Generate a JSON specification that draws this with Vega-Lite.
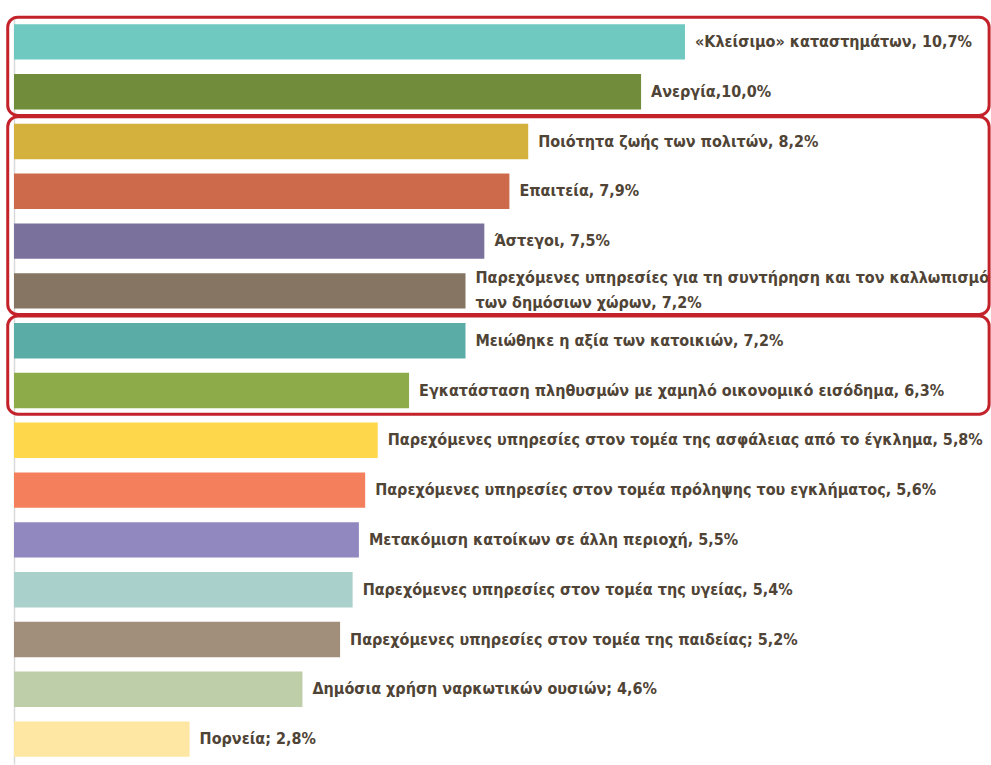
{
  "$schema": "https://vega.github.io/schema/vega-lite/v6.json",
  "autosize": "none",
  "width": 977,
  "height": 747,
  "padding": {"left": 14, "top": 17, "right": 0, "bottom": 1},
  "background": "white",
  "config": {"view": {"stroke": null}},
  "datasets": {
    "bars": [
      {"rank": 1, "value": 10.7, "label": "«Κλείσιμο» καταστημάτων, 10,7%", "color": "#6fc9c1"},
      {"rank": 2, "value": 10.0, "label": "Ανεργία,10,0%", "color": "#718c3a"},
      {"rank": 3, "value": 8.2, "label": "Ποιότητα ζωής των πολιτών, 8,2%", "color": "#d3b13c"},
      {"rank": 4, "value": 7.9, "label": "Επαιτεία, 7,9%", "color": "#cd6a4c"},
      {"rank": 5, "value": 7.5, "label": "Άστεγοι, 7,5%", "color": "#7a719d"},
      {"rank": 6, "value": 7.2, "label": "Παρεχόμενες υπηρεσίες για τη συντήρηση και τον καλλωπισμό\nτων δημόσιων χώρων, 7,2%", "color": "#857562"},
      {"rank": 7, "value": 7.2, "label": "Μειώθηκε η αξία των κατοικιών, 7,2%", "color": "#5aada7"},
      {"rank": 8, "value": 6.3, "label": "Εγκατάσταση πληθυσμών με χαμηλό οικονομικό εισόδημα, 6,3%", "color": "#8dab48"},
      {"rank": 9, "value": 5.8, "label": "Παρεχόμενες υπηρεσίες στον τομέα της ασφάλειας από το έγκλημα, 5,8%", "color": "#fed84a"},
      {"rank": 10, "value": 5.6, "label": "Παρεχόμενες υπηρεσίες στον τομέα πρόληψης του εγκλήματος, 5,6%", "color": "#f47f5c"},
      {"rank": 11, "value": 5.5, "label": "Μετακόμιση κατοίκων σε άλλη περιοχή, 5,5%", "color": "#9088bf"},
      {"rank": 12, "value": 5.4, "label": "Παρεχόμενες υπηρεσίες στον τομέα της υγείας, 5,4%", "color": "#aad0cb"},
      {"rank": 13, "value": 5.2, "label": "Παρεχόμενες υπηρεσίες στον τομέα της παιδείας; 5,2%", "color": "#a28f7b"},
      {"rank": 14, "value": 4.6, "label": "Δημόσια χρήση ναρκωτικών ουσιών; 4,6%", "color": "#bdcea8"},
      {"rank": 15, "value": 2.8, "label": "Πορνεία; 2,8%", "color": "#fee6a3"}
    ],
    "groups": [
      {"first": 1, "last": 2},
      {"first": 3, "last": 6},
      {"first": 7, "last": 8}
    ]
  },
  "encoding": {
    "y": {
      "field": "rank",
      "type": "ordinal",
      "scale": {"paddingInner": 0.29, "paddingOuter": 0.145},
      "axis": {"labels": false, "ticks": false, "title": null, "domainColor": "#d9d9d9", "domainWidth": 1.5}
    }
  },
  "layer": [
    {
      "data": {"name": "bars"},
      "mark": {"type": "bar"},
      "encoding": {
        "x": {
          "field": "value",
          "type": "quantitative",
          "scale": {"domain": [0, 15.58], "nice": false, "zero": true},
          "axis": null
        },
        "color": {"field": "color", "type": "nominal", "scale": null, "legend": null}
      }
    },
    {
      "data": {"name": "bars"},
      "mark": {
        "type": "text",
        "align": "left",
        "baseline": "middle",
        "dx": 10,
        "dy": {"expr": "datum.rank == 6 ? -13 : 0"},
        "font": "DejaVu Sans Condensed, Liberation Sans Narrow, sans-serif",
        "fontWeight": "bold",
        "fontSize": 16,
        "lineBreak": "\n",
        "lineHeight": 25,
        "color": "#4f4436"
      },
      "encoding": {
        "x": {"field": "value", "type": "quantitative"},
        "text": {"field": "label", "type": "nominal"}
      }
    },
    {
      "data": {"name": "groups"},
      "mark": {
        "type": "rect",
        "filled": false,
        "stroke": "#c4222b",
        "strokeWidth": 3,
        "cornerRadius": 10
      },
      "encoding": {
        "y": {"field": "first", "type": "ordinal", "bandPosition": -0.2},
        "y2": {"field": "last", "bandPosition": 1.17},
        "x": {"datum": -0.1, "type": "quantitative"},
        "x2": {"datum": 15.55}
      }
    }
  ]
}
